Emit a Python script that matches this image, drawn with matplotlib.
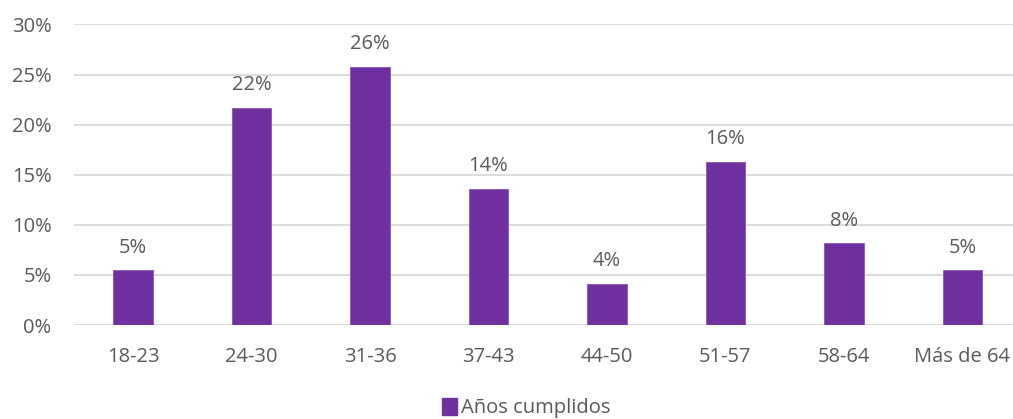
import matplotlib
matplotlib.use("Agg")
import matplotlib.pyplot as plt
from matplotlib.patches import Patch

# Age groups and share of respondents (fraction of total)
categories = ["18-23", "24-30", "31-36", "37-43", "44-50", "51-57", "58-64", "Más de 64"]
values = [0.0546, 0.217, 0.258, 0.136, 0.041, 0.163, 0.0815, 0.0546]
y_ticks = [0.0, 0.05, 0.10, 0.15, 0.20, 0.25, 0.30]
series_name = "Años cumplidos"

BAR = "#7030A0"
TEXT = "#595959"
GRID = "#D9D9D9"
FS = 14.5

plt.rcParams["font.family"] = ["Open Sans", "DejaVu Sans"]

W, H = 1013, 419
fig = plt.figure(figsize=(W / 100, H / 100), dpi=100)
ax = fig.add_axes([73.75 / W, 94 / H, 948 / W, 300.5 / H])

x = range(len(categories))
ax.bar(x, values, width=0.33, color=BAR, edgecolor="#8A55B8", linewidth=0.6, zorder=3)

for xi, v in zip(x, values):
    ax.annotate(f"{v * 100:.0f}%", (xi, v), xytext=(0, 9), textcoords="offset points",
                ha="center", va="bottom", fontsize=FS, color=TEXT)

ax.set_xlim(-0.5, len(categories) - 0.5)
ax.set_ylim(0, 0.30)
ax.set_yticks(y_ticks)
ax.set_yticklabels([f"{t * 100:.0f}%" for t in y_ticks])
ax.set_xticks(list(x))
ax.set_xticklabels(categories)
ax.tick_params(axis="both", length=0, labelsize=FS, colors=TEXT)
ax.tick_params(axis="y", pad=16)
ax.tick_params(axis="x", pad=16)
ax.yaxis.grid(True, color=GRID, linewidth=1.3, zorder=0)
ax.set_axisbelow(True)
for s in ax.spines.values():
    s.set_visible(False)

fig.legend(handles=[Patch(facecolor=BAR, edgecolor=BAR, label=series_name)],
           loc="center", bbox_to_anchor=(526 / W, 1 - 408 / H), frameon=False,
           handlelength=0.75, handleheight=0.95, handletextpad=0.2,
           fontsize=FS, labelcolor=TEXT)

fig.savefig("out.png", dpi=100, facecolor="white")
